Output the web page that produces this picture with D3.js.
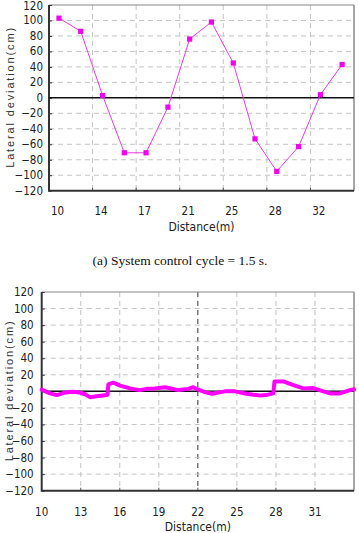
<!DOCTYPE html>
<html lang="en">
<head>
    <meta charset="UTF-8">
    <script src="https://d3js.org/d3.v7.min.js"></script>
    <style>
        body { margin: 0; background: #fff; }
        svg { display: block; }
        .tick-label { font-family: "Liberation Sans Narrow", "DejaVu Sans Condensed", "Liberation Sans", sans-serif; font-size: 11.5px; fill: #222; }
        .axis-title { font-family: "Liberation Sans", Arial, sans-serif; font-size: 11px; fill: #333; }
        .caption { font-family: "Liberation Serif", "DejaVu Serif", serif; font-size: 13.5px; fill: #111; }
    </style>
</head>
<body>
<div id="chart"></div>
<script>
    // (a) cycle 1.5 s : one point every ~1.83 m
    const topDistance = [10.0, 11.83, 13.67, 15.5, 17.33, 19.17, 21.0, 22.83, 24.67, 26.5, 28.33, 30.17, 32.0, 33.83];
    const topDeviation = [103, 86, 3, -71, -71, -12, 76, 98, 45, -53, -95, -63, 4, 43];
    const topTickValues = [10.0, 13.67, 17.33, 21.0, 24.67, 28.33, 32.0];
    const topTickLabels = ["10", "14", "17", "21", "25", "28", "32"];

    // (b) short cycle : dense trace
    const botDistance = [10.0, 10.64, 11.15, 11.79, 12.43, 12.94, 13.33, 13.71, 14.23, 15.0, 15.06, 15.12, 15.5, 16.02, 16.79,
        17.55, 18.07, 18.7, 19.48, 20.5, 21.27, 21.65, 22.03, 22.55, 23.06, 24.09, 24.86, 25.62, 26.26, 26.78, 27.24,
        27.8, 27.89, 28.57, 29.34, 30.1, 30.87, 31.64, 32.16, 32.92, 33.69, 34.0];
    const botDeviation = [2, -2.5, -4.5, -1.5, -0.5, -1.5, -3.5, -7, -6, -4.5, -4, 8.5, 10.5, 7, 3.5,
        1.5, 3, 3.5, 5, 1.5, 3, 5, 2, -1, -3, 0, 0, -2.5, -4, -5, -4.5,
        -2.5, 12, 12, 7.5, 3.5, 4, 0, -2.5, -2.5, 1.5, 2.5];
    const botTickValues = [10, 13, 16, 19, 22, 25, 28, 31];

    const yTicks = [120, 100, 80, 60, 40, 20, 0, -20, -40, -60, -80, -100, -120];

    const W = 359, H = 533;
    const svg = d3.select("#chart").append("svg").attr("width", W).attr("height", H);

    function drawPanel(p) {
        const g = svg.append("g");
        const x = d3.scaleLinear().domain(p.xDomain).range([p.left, p.right]);
        const y = d3.scaleLinear().domain([-120, 120]).range([p.bottom, p.top]);

        // grid
        const gridX = d3.range(1, p.nGrid).map(k => p.xDomain[0] + k * (p.xDomain[1] - p.xDomain[0]) / p.nGrid);
        g.selectAll(".gx").data(gridX).enter().append("line")
            .attr("x1", d => x(d)).attr("x2", d => x(d))
            .attr("y1", p.top).attr("y2", p.bottom)
            .attr("stroke", d => (p.darkGrid && Math.abs(d - p.darkGrid) < 0.01) ? "#333" : "#c4c4c4")
            .attr("stroke-width", 1)
            .attr("stroke-dasharray", "5,4");
        g.selectAll(".gy").data(yTicks.filter(v => v !== 0 && Math.abs(v) !== 120)).enter().append("line")
            .attr("x1", p.left).attr("x2", p.right)
            .attr("y1", d => y(d)).attr("y2", d => y(d))
            .attr("stroke", "#c4c4c4").attr("stroke-width", 1).attr("stroke-dasharray", "5,4");

        // frame
        g.append("line").attr("x1", p.left).attr("x2", p.right).attr("y1", p.top).attr("y2", p.top)
            .attr("stroke", "#888").attr("stroke-width", 1.2);
        g.append("line").attr("x1", p.right).attr("x2", p.right).attr("y1", p.top).attr("y2", p.bottom)
            .attr("stroke", "#888").attr("stroke-width", 1.5);

        // small ticks on x at gridlines
        g.selectAll(".tx").data(gridX).enter().append("line")
            .attr("x1", d => x(d)).attr("x2", d => x(d))
            .attr("y1", p.bottom).attr("y2", p.bottom - 3)
            .attr("stroke", "#555").attr("stroke-width", 1);

        // y axis with inner ticks
        const yAxis = g.append("g").attr("transform", `translate(${p.left},0)`)
            .call(d3.axisRight(y).tickValues(yTicks).tickSize(3).tickFormat(""));
        yAxis.select(".domain").remove();
        yAxis.selectAll("line").attr("stroke", "#333");
        g.selectAll(".yl").data(yTicks).enter().append("text")
            .attr("class", "tick-label")
            .attr("x", p.left - p.yLabelGap).attr("y", d => Math.max(y(d) + 4, 9.5))
            .attr("text-anchor", "end")
            .text(d => d < 0 ? "\u2212" + Math.abs(d) : d);

        // x labels
        g.selectAll(".xl").data(p.xTicks).enter().append("text")
            .attr("class", "tick-label")
            .attr("x", d => x(d) + p.xLabelDx).attr("y", p.xLabelY)
            .attr("text-anchor", "middle")
            .text((d, i) => p.xLabels ? p.xLabels[i] : d);

        // axes lines
        g.append("line").attr("x1", p.left).attr("x2", p.left).attr("y1", p.top).attr("y2", p.bottom + 1)
            .attr("stroke", "#333").attr("stroke-width", 2);
        g.append("line").attr("x1", p.left).attr("x2", p.right).attr("y1", p.bottom).attr("y2", p.bottom)
            .attr("stroke", "#333").attr("stroke-width", 2);
        g.append("line").attr("x1", p.left).attr("x2", p.right).attr("y1", y(0)).attr("y2", y(0))
            .attr("stroke", "#111").attr("stroke-width", 1.5);

        // series
        const pts = p.xs.map((d, i) => [d, p.ys[i]]);
        const line = d3.line().x(d => x(d[0])).y(d => y(d[1]));
        g.append("path").datum(pts).attr("d", line)
            .attr("fill", "none").attr("stroke", p.lineColor).attr("stroke-width", p.lineWidth)
            .attr("stroke-linejoin", "round").attr("stroke-linecap", "round");
        if (p.markers) {
            g.selectAll(".mk").data(pts).enter().append("rect")
                .attr("x", d => x(d[0]) - 2.6).attr("y", d => y(d[1]) - 2.6)
                .attr("width", 5.2).attr("height", 5.2)
                .attr("fill", "#f000f0");
        }

        // titles
        g.append("text").attr("class", "axis-title")
            .attr("transform", `translate(${p.yTitleX},${y(0)}) rotate(-90)`)
            .attr("text-anchor", "middle")
            .attr("textLength", 140).attr("lengthAdjust", "spacing")
            .text("Lateral deviation(cm)");
        g.append("text").attr("class", "tick-label")
            .attr("x", (p.left + p.right) / 2).attr("y", p.xTitleY)
            .attr("text-anchor", "middle").style("font-size", "12px")
            .text("Distance(m)");
    }

    drawPanel({
        left: 49, right: 354, top: 5, bottom: 190.7,
        xDomain: [9.16, 34.83], nGrid: 7,
        xTicks: topTickValues, xLabels: topTickLabels, xLabelDx: -1.5, xLabelY: 215,
        xs: topDistance, ys: topDeviation,
        lineColor: "#e83ce8", lineWidth: 1, markers: true,
        yLabelGap: 6, yTitleX: 14, xTitleY: 231
    });

    svg.append("text").attr("class", "caption")
        .attr("x", 180).attr("y", 265).attr("text-anchor", "middle")
        .text("(a) System control cycle = 1.5 s.");

    drawPanel({
        left: 41.7, right: 354, top: 292, bottom: 490.7,
        xDomain: [10, 34], nGrid: 8, darkGrid: 22,
        xTicks: botTickValues, xLabelDx: 0, xLabelY: 516,
        xs: botDistance, ys: botDeviation,
        lineColor: "#ff00ff", lineWidth: 4, markers: false,
        yLabelGap: 8, yTitleX: 13, xTitleY: 531
    });
</script>
</body>
</html>
